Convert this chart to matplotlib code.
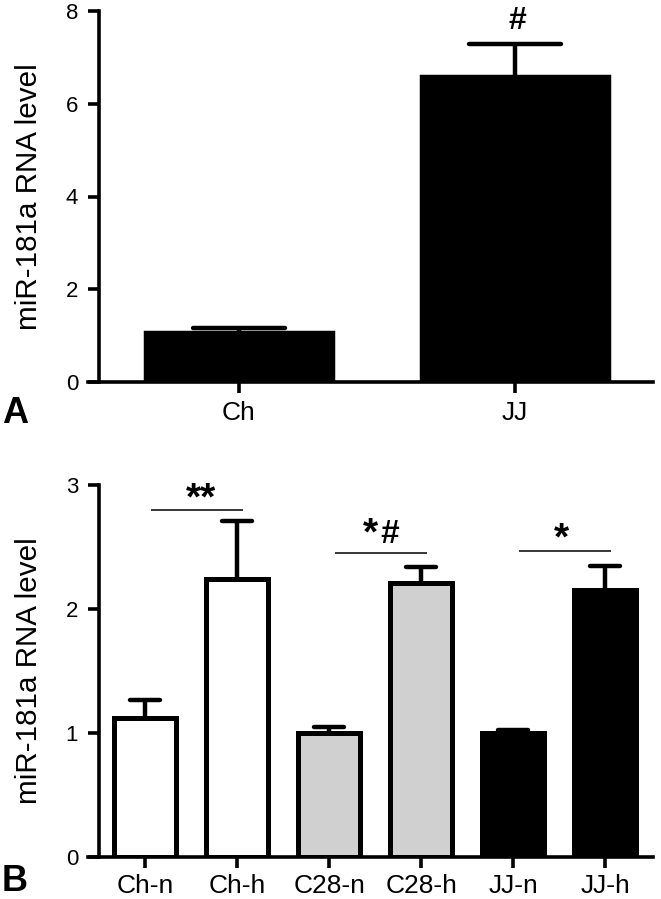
import matplotlib
matplotlib.use("Agg")
import matplotlib.pyplot as plt
import numpy as np

plt.rcParams['font.family'] = ['Liberation Sans', 'DejaVu Sans']

# Panel A data
cats_a = ["Ch", "JJ"]
vals_a = [1.07, 6.60]
err_a = [0.10, 0.68]
yticks_a = [0, 2, 4, 6, 8]

# Panel B data
cats_b = ["Ch-n", "Ch-h", "C28-n", "C28-h", "JJ-n", "JJ-h"]
vals_b = [1.12, 2.24, 1.00, 2.21, 1.00, 2.15]
err_b = [0.15, 0.47, 0.045, 0.13, 0.025, 0.20]
colors_b = ["white", "white", "#d0d0d0", "#d0d0d0", "black", "black"]
yticks_b = [0, 1, 2, 3]

# significance annotations: left bar index, line height
sig_pairs = [0, 2, 4]
sig_line_y = [2.795, 2.455, 2.47]

W, H = 661, 899
fig = plt.figure(figsize=(W / 100, H / 100), dpi=100)

SP_LW = 2.6
TICK_FS_Y = 16
TICK_FS_X = 19
LABEL_FS = 21.3
STAR_FS = 28


def style_axes(ax, xmin, yaxis_x, xmax, ytop, yticks, xpad):
    ax.set_xlim(xmin, xmax)
    ax.set_ylim(0, ytop)
    for s in ["top", "right"]:
        ax.spines[s].set_visible(False)
    ax.spines["left"].set_position(("data", yaxis_x))
    ax.spines["left"].set_bounds(0, ytop)
    ax.spines["left"].set_linewidth(SP_LW)
    ax.spines["bottom"].set_linewidth(SP_LW)
    ax.spines["left"].set_capstyle("projecting")
    ax.set_yticks(yticks)
    ax.set_yticklabels([str(t) for t in yticks])
    ax.tick_params(axis="y", direction="out", length=8, width=SP_LW, pad=7,
                   labelsize=TICK_FS_Y)
    ax.tick_params(axis="x", direction="out", length=8, width=SP_LW, pad=xpad,
                   labelsize=TICK_FS_X)
    ax.set_ylabel("miR-181a RNA level", fontsize=LABEL_FS)
    ax.yaxis.set_label_coords(-0.08, 0.5)
    ax.patch.set_visible(False)


def glyph_text(ax, x, yc, s, fs, center_em):
    """Place text so that glyph vertical centre sits at data y = yc."""
    ax.annotate(s, xy=(x, yc), xytext=(0, -center_em * fs),
                textcoords="offset points", ha="center", va="baseline",
                fontsize=fs, fontweight="bold", annotation_clip=False)


# ---------- Panel A ----------
axA = fig.add_axes([88 / W, (H - 382) / H, 565 / W, 371 / H])
xa = np.arange(len(cats_a))
axA.bar(xa, vals_a, width=0.68, color="black", edgecolor="black",
        linewidth=2.5, zorder=2)
tops_a = np.array(vals_a) + np.array(err_a)
axA.vlines(xa, vals_a, tops_a, color="black", linewidth=3.2, zorder=3)
axA.hlines(tops_a, xa - 0.165, xa + 0.165, color="black", linewidth=3.2,
           capstyle="round", zorder=3)
axA.set_xticks(xa)
axA.set_xticklabels(cats_a)
style_axes(axA, -0.547, -0.507, 1.5, 8, yticks_a, 6)
glyph_text(axA, 1.01, 7.86, "#", 23, 0.35)

# ---------- Panel B ----------
axB = fig.add_axes([88 / W, (H - 857) / H, 565 / W, 372 / H])
xb = np.arange(len(cats_b))
axB.bar(xb, vals_b, width=0.67, color=colors_b, edgecolor="black",
        linewidth=3.6, zorder=2)
tops_b = np.array(vals_b) + np.array(err_b)
axB.vlines(xb, vals_b, tops_b, color="black", linewidth=3.2, zorder=1)
axB.hlines(tops_b, xb - 0.16, xb + 0.16, color="black", linewidth=3.2,
           capstyle="round", zorder=1)
axB.set_xticks(xb)
axB.set_xticklabels(cats_b)
style_axes(axB, -0.62, -0.5, 5.52, 3, yticks_b, 4)
for i, ly in zip(sig_pairs, sig_line_y):
    axB.hlines(ly, i + 0.06, i + 1.06, color="black", linewidth=1.1, zorder=3)

glyph_text(axB, 0.61, 2.988, "**", STAR_FS, 0.58)
glyph_text(axB, 2.446, 2.706, "*", STAR_FS, 0.58)
glyph_text(axB, 2.66, 2.626, "#", 24, 0.35)
glyph_text(axB, 4.52, 2.664, "*", STAR_FS, 0.58)

fig.text(2 / W, (H - 423) / H, "A", fontsize=26, fontweight="bold",
         ha="left", va="baseline")
fig.text(2 / W, (H - 891) / H, "B", fontsize=26, fontweight="bold",
         ha="left", va="baseline")

fig.savefig("out.png", dpi=100)
